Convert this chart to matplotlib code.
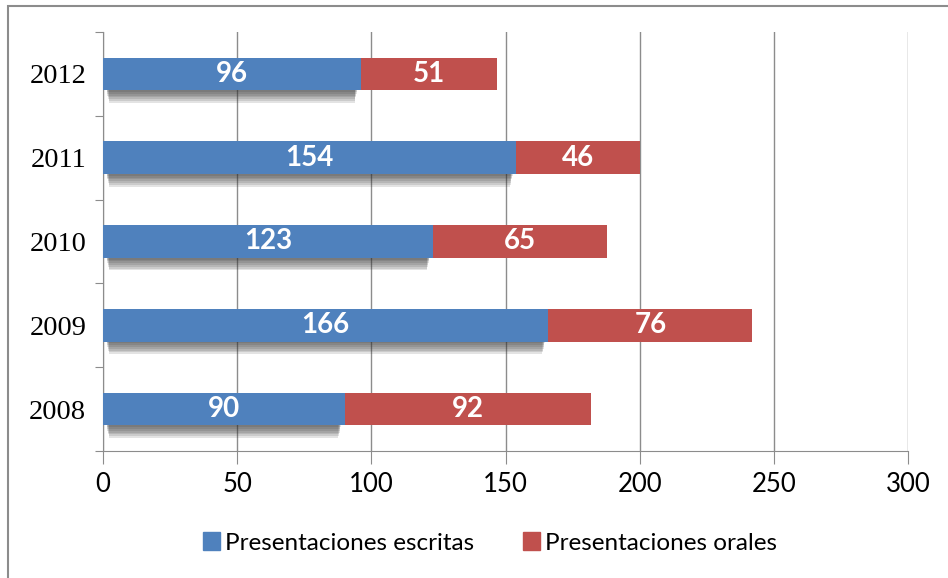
import matplotlib.pyplot as plt
from matplotlib.patches import Rectangle, Patch

# data
years = ['2008', '2009', '2010', '2011', '2012']
escritas = [90, 166, 123, 154, 96]
orales = [92, 76, 65, 46, 51]

blue = '#4F81BD'
red = '#C0504D'
grid_col = '#8C8C8C'

fig = plt.figure(figsize=(9.48, 5.78), dpi=100)
ax = fig.add_axes([103/948, 1-451/578, 805/948, 419/578])

pos = list(range(len(years)))
h = 0.39
px = 1 / 83.6  # one pixel in category units

# soft drop shadow under the blue bars, built from a few stacked translucent strips
for k in range(1, 8):
    d = k * 1.8 * px
    inset = 1.2 + k * 0.15
    ax.barh([p - h/2 for p in pos], [v - 2*inset for v in escritas], height=-d,
            left=inset, align='edge', color='#2e2e2e', alpha=0.13, linewidth=0, zorder=2)

b1 = ax.barh(pos, escritas, height=h, color=blue, zorder=3)
b2 = ax.barh(pos, orales, left=escritas, height=h, color=red, zorder=3)

for i in pos:
    ax.text(escritas[i]/2, i, str(escritas[i]), ha='center', va='center', color='white',
            fontsize=20, fontweight='bold', family='Lato', zorder=4)
    ax.text(escritas[i] + orales[i]/2, i, str(orales[i]), ha='center', va='center', color='white',
            fontsize=20, fontweight='bold', family='Lato', zorder=4)

ax.set_xlim(0, 300)
ax.set_ylim(-0.5, 4.5)
ax.set_xticks(range(0, 301, 50))
ax.set_xticklabels([str(v) for v in range(0, 301, 50)], family='Lato', fontsize=18.5)
ax.tick_params(axis='x', length=9, color=grid_col, pad=6)

ax.set_yticks([-0.5, 0.5, 1.5, 2.5, 3.5, 4.5])
ax.set_yticklabels([])
ax.tick_params(axis='y', which='major', length=6, color=grid_col)
ax.set_yticks(pos, minor=True)
ax.set_yticklabels(years, minor=True, family='Liberation Serif', fontsize=20.5)
ax.tick_params(axis='y', which='minor', length=0, pad=12)

ax.grid(axis='x', color=grid_col, linewidth=1, zorder=0)
ax.set_axisbelow(True)
for s in ['top', 'right']:
    ax.spines[s].set_visible(False)
for s in ['left', 'bottom']:
    ax.spines[s].set_color(grid_col)

handles = [Patch(color=blue, label='Presentaciones escritas'),
           Patch(color=red, label='Presentaciones orales')]
fig.legend(handles=handles, loc='center', bbox_to_anchor=(490/948, 1-543/578), ncol=2,
           frameon=False, prop={'family': 'Lato', 'size': 17.5}, handlelength=0.7, handleheight=0.7,
           handletextpad=0.2, columnspacing=2.0)

fig.patches.append(Rectangle((8/948, -0.05), 1.0, 1-6/578+0.05, transform=fig.transFigure,
                             fill=False, edgecolor='#8C8C8C', linewidth=1.5))

fig.savefig('out.png', dpi=100)
